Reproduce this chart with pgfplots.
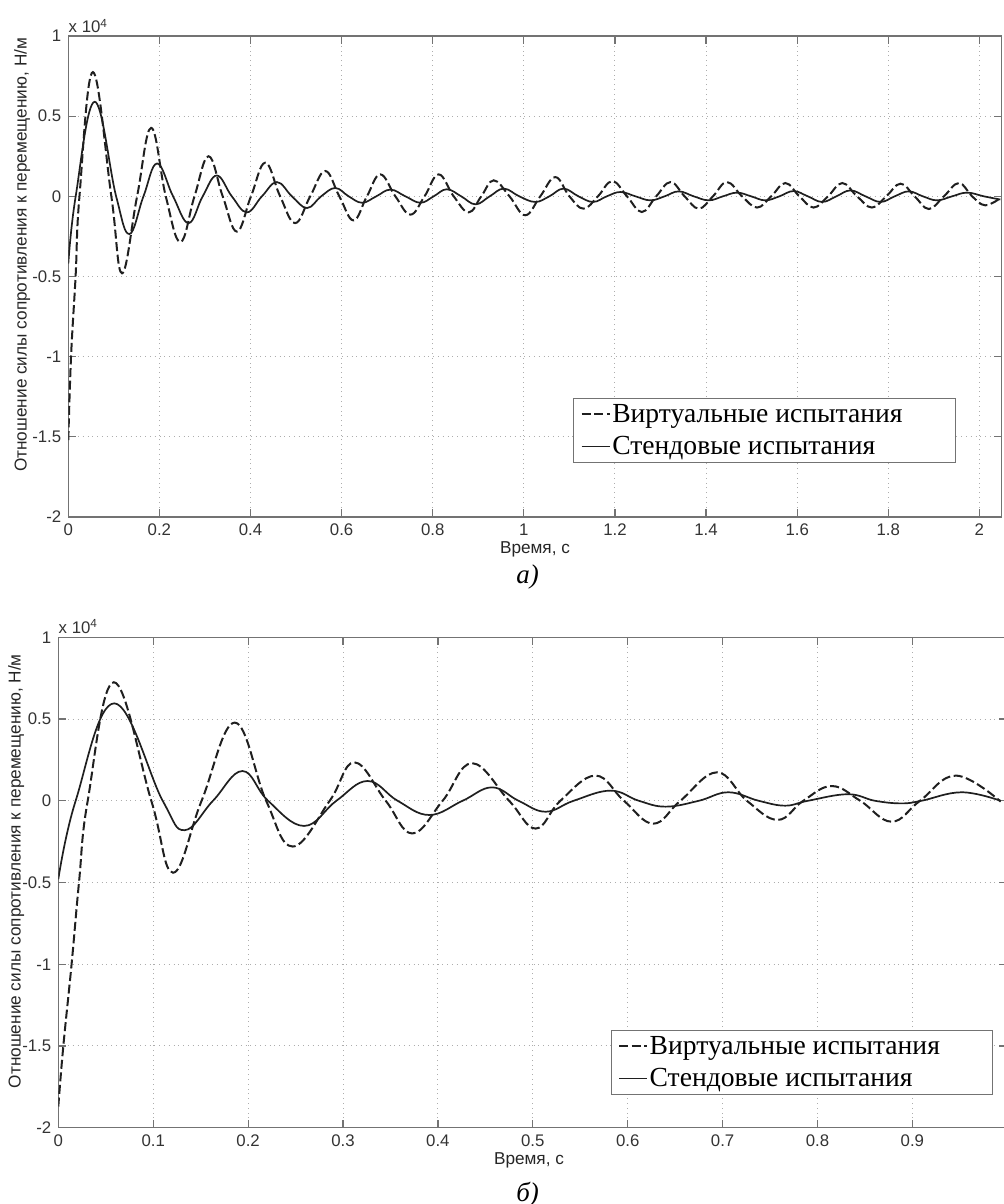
\documentclass[border=0pt]{standalone}
\usepackage{fontspec}
\setmainfont{Liberation Sans}
\newfontfamily\timesfont{Liberation Serif}
\usepackage{pgfplots}
\pgfplotsset{compat=1.18}

\definecolor{curve}{gray}{0.12}
\definecolor{spine}{gray}{0.45}
\definecolor{gridc}{gray}{0.68}

% MATLAB-like look shared by both panels
\pgfplotsset{
  matlab/.style={
    scale only axis,
    anchor=north west,
    ymin=-2, ymax=1,
    ytick={-2,-1.5,-1,-0.5,0,0.5,1},
    yticklabels={-2,-1.5,-1,-0.5,0,0.5,1},
    tick align=inside,
    major tick length=4pt,
    grid=major,
    major grid style={dotted, gridc, line width=0.5pt},
    axis line style={spine, line width=0.6pt},
    tick style={spine, line width=0.6pt},
    tick label style={font=\fontsize{8.4}{10}\selectfont, text=black!80},
    label style={font=\fontsize{8.6}{10}\selectfont, text=black!85},
    legend cell align=left,
    legend style={font=\timesfont\fontsize{13.8}{16}\selectfont, draw=spine,
      line width=0.5pt, inner xsep=3.5pt, inner ysep=0pt, row sep=0pt,
      nodes={inner xsep=0.8pt, inner ysep=2.7pt}},
    legend image code/.code={\draw[#1] (0pt,0pt) -- (14pt,0pt);},
  },
  virt/.style={smooth, tension=0.68, curve, line width=1pt, dash pattern=on 4.5pt off 1.8pt},
  bench/.style={smooth, tension=0.68, curve, line width=0.85pt},
}

\begin{document}
\begin{tikzpicture}

% ---------- а) ----------
\begin{axis}[matlab,
  at={(34.15pt,-18pt)},
  width=466.7pt, height=240.5pt,
  xmin=0, xmax=2.049,
  xtick={0,0.2,0.4,0.6,0.8,1,1.2,1.4,1.6,1.8,2},
  xticklabels={0,0.2,0.4,0.6,0.8,1,1.2,1.4,1.6,1.8,2},
  xlabel={Время, с},
  ylabel={Отношение силы сопротивления к перемещению, Н/м},
  xlabel style={at={(axis description cs:0.5,-0.068)}, anchor=center},
  ylabel style={at={(axis description cs:-0.0493,0.545)}, anchor=center},
  legend style={at={(0.9507,0.1123)}, anchor=south east},
  after end axis/.code={
    \node[anchor=base west, inner sep=0pt, yshift=1.6pt,
      font=\fontsize{8.4}{10}\selectfont, text=black!80]
      at (rel axis cs:0,1) {x 10\textsuperscript{4}};
  },
]
\addplot[virt] coordinates {
 (0,-1.52) (0.006,-1.0) (0.016,-0.5) (0.0245,0) (0.054,0.775)
 (0.0945,0) (0.118,-0.48) (0.151,0) (0.182,0.427) (0.214,0)
 (0.246,-0.285) (0.277,0) (0.308,0.25) (0.339,0) (0.370,-0.22) (0.401,0)
 (0.4325,0.21) (0.465,0) (0.498,-0.167) (0.531,0) (0.564,0.158) (0.595,0)
 (0.626,-0.15) (0.6555,0) (0.685,0.137) (0.718,0) (0.751,-0.114) (0.782,0)
 (0.813,0.137) (0.846,0) (0.879,-0.10) (0.9065,0) (0.934,0.10) (0.9685,0)
 (1.003,-0.118) (1.036,0) (1.069,0.12) (1.10,0) (1.131,-0.077) (1.1625,0)
 (1.194,0.095) (1.2265,0) (1.259,-0.098) (1.2905,0) (1.322,0.089) (1.353,0)
 (1.384,-0.077) (1.415,0) (1.446,0.089) (1.479,0) (1.512,-0.07) (1.543,0)
 (1.574,0.083) (1.605,0) (1.636,-0.07) (1.6675,0) (1.699,0.083) (1.7315,0)
 (1.764,-0.07) (1.7955,0) (1.827,0.079) (1.858,0) (1.889,-0.079) (1.922,0)
 (1.955,0.083) (1.984,0) (2.013,-0.056) (2.046,-0.01)
};
\addlegendentry{Виртуальные испытания\hspace*{22pt}}
\addplot[bench] coordinates {
 (0,-0.42) (0.0162,0) (0.058,0.59) (0.105,0)
 (0.134,-0.235) (0.165,0) (0.195,0.205) (0.23,0) (0.264,-0.167) (0.295,0)
 (0.326,0.13) (0.359,0) (0.392,-0.10) (0.425,0) (0.458,0.089) (0.491,0)
 (0.524,-0.073) (0.555,0) (0.586,0.052) (0.6155,0) (0.645,-0.04) (0.676,0)
 (0.707,0.042) (0.74,0) (0.773,-0.04) (0.802,0) (0.831,0.044) (0.8625,0)
 (0.894,-0.05) (0.925,0) (0.956,0.048) (0.99,0) (1.025,-0.035) (1.056,0)
 (1.087,0.048) (1.12,0) (1.152,-0.035) (1.182,0) (1.212,0.027) (1.245,0)
 (1.278,-0.025) (1.309,0) (1.340,0.031) (1.373,0) (1.406,-0.025) (1.437,0)
 (1.468,0.023) (1.499,0) (1.530,-0.025) (1.561,0) (1.592,0.033) (1.6235,0)
 (1.655,-0.035) (1.686,0) (1.717,0.037) (1.75,0) (1.783,-0.035) (1.814,0)
 (1.845,0.031) (1.876,0) (1.907,-0.025) (1.94,0) (1.973,0.023) (2.01,0)
 (2.046,-0.02)
};
\addlegendentry{Стендовые испытания}
\end{axis}

% ---------- б) ----------
\begin{axis}[matlab,
  at={(29.15pt,-318.65pt)},
  width=474.5pt, height=245.2pt,
  xmin=0, xmax=1,
  xtick={0,0.1,0.2,0.3,0.4,0.5,0.6,0.7,0.8,0.9},
  xticklabels={0,0.1,0.2,0.3,0.4,0.5,0.6,0.7,0.8,0.9},
  xlabel={Время, с},
  ylabel={Отношение силы сопротивления к перемещению, Н/м},
  xlabel style={at={(axis description cs:0.496,-0.066)}, anchor=center},
  ylabel style={at={(axis description cs:-0.0445,0.523)}, anchor=center},
  legend style={at={(0.985,0.0667)}, anchor=south east},
  after end axis/.code={
    \node[anchor=base west, inner sep=0pt, yshift=1.9pt,
      font=\fontsize{8.4}{10}\selectfont, text=black!80]
      at (rel axis cs:0,1) {x 10\textsuperscript{4}};
  },
]
\addplot[virt] coordinates {
 (0,-1.87) (0.0053,-1.5) (0.014,-1.0) (0.0218,-0.5) (0.031,0)
 (0.0586,0.725) (0.098,0) (0.121,-0.44) (0.151,0) (0.186,0.478)
 (0.219,0) (0.247,-0.28) (0.286,0) (0.312,0.235) (0.345,0) (0.373,-0.2)
 (0.405,0) (0.436,0.23) (0.475,0) (0.503,-0.17) (0.529,0) (0.566,0.154)
 (0.596,0) (0.627,-0.14) (0.6555,0) (0.694,0.174) (0.7256,0) (0.758,-0.117)
 (0.785,0) (0.815,0.09) (0.845,0) (0.878,-0.128) (0.908,0) (0.946,0.154)
 (0.993,-0.005)
};
\addlegendentry{Виртуальные испытания\hspace*{22pt}}
\addplot[bench] coordinates {
 (0,-0.48) (0.0183,0) (0.059,0.596) (0.110,0)
 (0.133,-0.18) (0.163,0) (0.194,0.182) (0.221,0) (0.259,-0.154) (0.293,0)
 (0.326,0.121) (0.3575,0) (0.391,-0.087) (0.426,0) (0.457,0.082) (0.485,0)
 (0.5135,-0.067) (0.543,0) (0.582,0.062) (0.6117,0) (0.64,-0.036) (0.675,0)
 (0.706,0.052) (0.738,0) (0.766,-0.03) (0.79,0) (0.832,0.04) (0.8605,0)
 (0.8885,-0.016) (0.9096,0) (0.952,0.052) (0.993,0)
};
\addlegendentry{Стендовые испытания}
\end{axis}

% panel captions
\node[anchor=base west, inner sep=0pt, font=\timesfont\itshape\fontsize{13.5}{16}\selectfont]
  at (258pt,-291.5pt) {а)};
\node[anchor=base west, inner sep=0pt, font=\timesfont\itshape\fontsize{13.5}{16}\selectfont]
  at (258pt,-600.5pt) {б)};

\pgfresetboundingbox
\path[use as bounding box] (0pt,0pt) rectangle (501.5pt,-602pt);
\end{tikzpicture}
\end{document}
